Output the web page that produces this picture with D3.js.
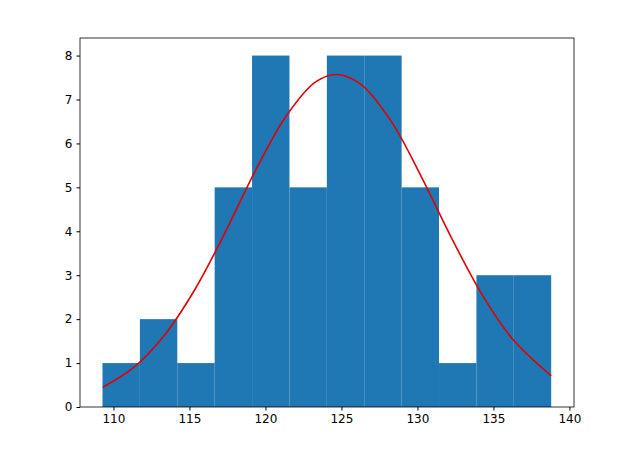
<!DOCTYPE html>
<html><head><meta charset="utf-8">
<script src="https://cdn.jsdelivr.net/npm/d3@7"></script>
<style>body{margin:0;background:#fff}text{font-family:"DejaVu Sans";}</style>
</head><body><svg id="c" width="638" height="451"></svg>
<script>
const binEdges=[109.28,111.74,114.2,116.66,119.12,121.58,124.04,126.5,128.96,131.42,133.88,136.34,138.8];
const counts=[1,2,1,5,8,5,8,8,5,1,3,3];
const curveX=[109.3,111.3,113.3,115.3,117.3,119.3,121.3,123.3,124.7,126.3,128.3,130.3,132.3,134.3,136.3,138.8];
const curveY=[0.45,0.89,1.61,2.64,3.94,5.35,6.59,7.40,7.57,7.34,6.49,5.21,3.81,2.53,1.53,0.71];
const xTicks=[110,115,120,125,130,135,140];
const yTicks=[0,1,2,3,4,5,6,7,8];
const m={l:80,r:64,t:38,b:44},W=638,H=451;
const svg=d3.select("#c");
const x=d3.scaleLinear().domain([107.8,140.3]).range([m.l,W-m.r]);
const y=d3.scaleLinear().domain([0,8.4]).range([H-m.b,m.t]);
svg.selectAll("rect.b").data(counts).join("rect").attr("fill","#1f77b4")
 .attr("x",(d,i)=>x(binEdges[i])).attr("width",(d,i)=>x(binEdges[i+1])-x(binEdges[i]))
 .attr("y",d=>y(d)).attr("height",d=>y(0)-y(d));
svg.append("path").datum(curveX.map((v,i)=>[v,curveY[i]])).attr("fill","none").attr("stroke","#e00000").attr("stroke-width",1.6)
 .attr("d",d3.line().x(d=>x(d[0])).y(d=>y(d[1])).curve(d3.curveCatmullRom));
const gx=svg.append("g").attr("transform",`translate(0,${H-m.b})`).call(d3.axisBottom(x).tickValues(xTicks).tickSize(3.5).tickPadding(4));
const gy=svg.append("g").attr("transform",`translate(${m.l},0)`).call(d3.axisLeft(y).tickValues(yTicks).tickSize(3.5).tickPadding(4));
[gx,gy].forEach(g=>{g.select(".domain").remove();g.selectAll("text").attr("font-size",12).attr("fill","#000").attr("font-family","DejaVu Sans");g.selectAll("line").attr("stroke","#000");});
svg.append("rect").attr("x",m.l).attr("y",m.t).attr("width",W-m.l-m.r).attr("height",H-m.t-m.b).attr("fill","none").attr("stroke","#000").attr("stroke-width",0.8);
</script></body></html>
